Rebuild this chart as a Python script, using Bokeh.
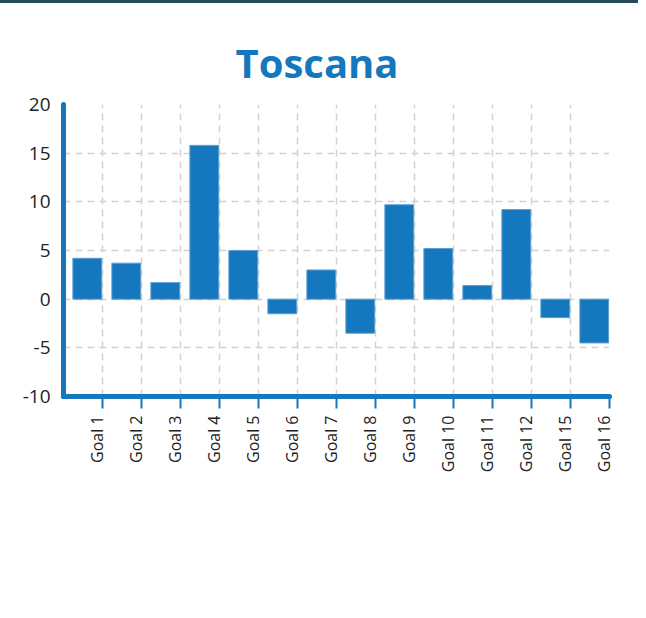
import math
from bokeh.plotting import figure
from bokeh.models import FixedTicker, Range1d, LinearAxis
from bokeh.embed import file_html
from bokeh.resources import INLINE

goals = ["Goal 1", "Goal 2", "Goal 3", "Goal 4", "Goal 5", "Goal 6", "Goal 7",
         "Goal 8", "Goal 9", "Goal 10", "Goal 11", "Goal 12", "Goal 15", "Goal 16"]
values = [4.2, 3.7, 1.7, 15.8, 5.0, -1.5, 3.0, -3.5, 9.7, 5.2, 1.4, 9.2, -1.9, -4.5]
y_ticks = [-10, -5, 0, 5, 10, 15, 20]
y_tick_labels = ["-10", "-5", "0", "5", "10", "15", "20"]

BLUE = "#1577bd"

p = figure(width=638, height=607, output_backend="svg", toolbar_location=None,
           x_range=Range1d(0, len(goals)), y_range=Range1d(-10, 20),
           min_border_left=63, min_border_right=29, min_border_top=101, min_border_bottom=214)
p.outline_line_color = None
p.background_fill_color = "white"
p.styles = {"border-top": "3px solid #24495a"}

# bars occupy the right part of each category band (band = [i, i+1])
lefts = [i + 0.24 for i in range(len(goals))]
rights = [i + 0.98 for i in range(len(goals))]
p.quad(left=lefts, right=rights, bottom=0, top=values,
       fill_color=BLUE, line_color="#5c9fd3", line_width=1)

# title
p.title.text = "Toscana"
p.title.align = "left"
p.title.offset = 172
p.title.text_font = "Open Sans"
p.title.text_font_style = "bold"
p.title.text_font_size = "40px"
p.title.text_color = BLUE
p.title.standoff = 30

# x axis: line + ticks at band ends
xa = p.xaxis[0]
band_ends = list(range(1, len(goals) + 1))
xa.ticker = FixedTicker(ticks=band_ends)
xa.major_label_overrides = {t: "" for t in band_ends}
xa.major_label_text_font_size = "0px"
xa.major_label_standoff = 0
xa.axis_line_color = BLUE
xa.axis_line_width = 5
xa.axis_line_cap = "round"
xa.major_tick_line_color = BLUE
xa.major_tick_line_width = 2
xa.major_tick_in = 0
xa.major_tick_out = 12
xa.minor_tick_line_color = None

# x axis labels: second axis, labels sit just left of each tick
label_pos = [t - 0.13 for t in band_ends]
xl = LinearAxis(ticker=FixedTicker(ticks=label_pos))
xl.major_label_overrides = {t: g for t, g in zip(label_pos, goals)}
xl.major_label_orientation = math.pi / 2
xl.major_label_text_font = "Open Sans"
xl.major_label_text_font_size = "16px"
xl.major_label_text_color = "#222222"
xl.major_label_standoff = 7
xl.axis_line_color = None
xl.major_tick_line_color = None
xl.minor_tick_line_color = None
xl.major_tick_in = 0
xl.major_tick_out = 0
p.add_layout(xl, "below")

# y axis
ya = p.yaxis[0]
ya.ticker = FixedTicker(ticks=y_ticks)
ya.major_label_overrides = {t: s for t, s in zip(y_ticks, y_tick_labels)}
ya.major_label_text_font = "Open Sans"
ya.major_label_text_font_size = "19px"
ya.major_label_text_color = "#222222"
ya.major_label_standoff = 13
ya.axis_line_color = BLUE
ya.axis_line_width = 5
ya.axis_line_cap = "round"
ya.major_tick_line_color = None
ya.major_tick_in = 0
ya.major_tick_out = 0
ya.minor_tick_line_color = None

# grids
p.xgrid.ticker = FixedTicker(ticks=band_ends)
p.ygrid.ticker = FixedTicker(ticks=y_ticks)
for g in (p.xgrid, p.ygrid):
    g.grid_line_color = "#d2d2d2"
    g.grid_line_width = 1.5
    g.grid_line_dash = "7 5"

open("out.html", "w").write(file_html(p, INLINE))
